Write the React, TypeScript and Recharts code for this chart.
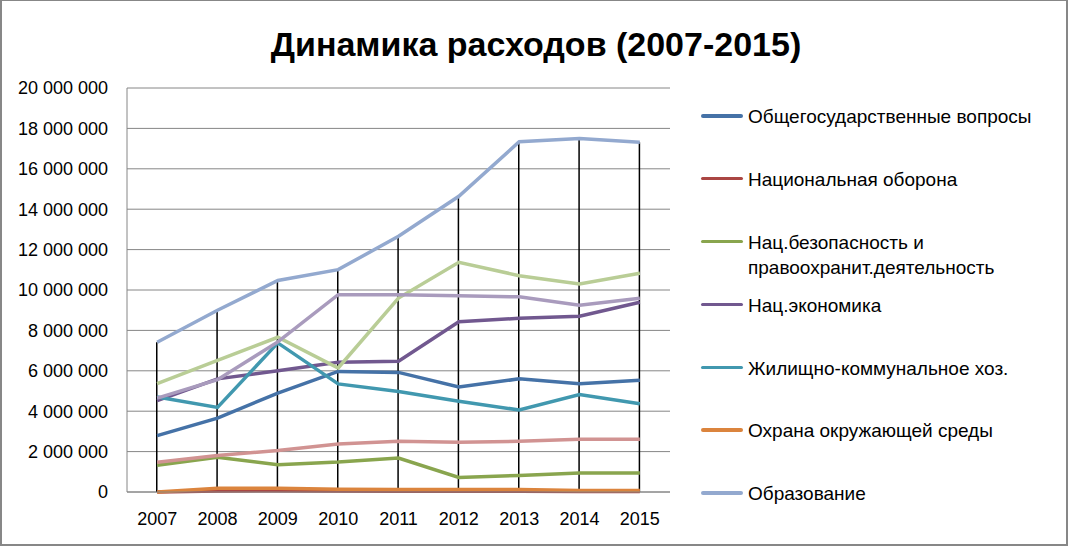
import React from "react";
import {
  ComposedChart, Line, Bar, XAxis, YAxis, CartesianGrid,
} from "recharts";

const years = ["2007", "2008", "2009", "2010", "2011", "2012", "2013", "2014", "2015"];

const obshchegos = [2790000, 3660000, 4900000, 5970000, 5920000, 5200000, 5600000, 5360000, 5530000];
const oborona = [0, 50000, 60000, 50000, 40000, 40000, 40000, 30000, 30000];
const bezopasnost = [1320000, 1720000, 1350000, 1480000, 1680000, 720000, 820000, 940000, 940000];
const ekonomika = [4520000, 5600000, 6000000, 6420000, 6470000, 8430000, 8600000, 8700000, 9390000];
const zhkh = [4700000, 4190000, 7380000, 5350000, 4970000, 4490000, 4060000, 4830000, 4370000];
const okhrana = [0, 180000, 180000, 130000, 120000, 120000, 120000, 80000, 80000];
const obrazovanie = [7410000, 9000000, 10470000, 11010000, 12660000, 14640000, 17340000, 17500000, 17320000];
const kultura = [1470000, 1810000, 2060000, 2380000, 2510000, 2460000, 2510000, 2610000, 2610000];
const zdravo = [5360000, 6520000, 7660000, 6140000, 9600000, 11370000, 10710000, 10300000, 10830000];
const sotspolit = [4650000, 5560000, 7430000, 9770000, 9770000, 9710000, 9660000, 9240000, 9590000];

const yTicks = [0, 2000000, 4000000, 6000000, 8000000, 10000000, 12000000, 14000000, 16000000, 18000000, 20000000];

const series = [
  { key: "Общегосударственные вопросы", values: obshchegos, color: "#4572A7", legend: true },
  { key: "Национальная оборона", values: oborona, color: "#AA4643", legend: true },
  { key: "Нац.безопасность и правоохранит.деятельность", values: bezopasnost, color: "#89A54E", legend: true },
  { key: "Нац.экономика", values: ekonomika, color: "#71588F", legend: true },
  { key: "Жилищно-коммунальное хоз.", values: zhkh, color: "#4198AF", legend: true },
  { key: "Охрана окружающей среды", values: okhrana, color: "#DB843D", legend: true },
  { key: "Образование", values: obrazovanie, color: "#93A9CF", legend: true },
  { key: "Культура", values: kultura, color: "#D19392", legend: false },
  { key: "Здравоохранение", values: zdravo, color: "#B9CD96", legend: false },
  { key: "Социальная политика", values: sotspolit, color: "#A99BBD", legend: false },
];

const data = years.map((year, i) => {
  const row: Record<string, string | number> = { year };
  series.forEach((s) => { row[s.key] = s.values[i]; });
  // drop line goes down from the highest point of the year
  row.drop = Math.max(...series.map((s) => s.values[i]));
  return row;
});

const font = "'Liberation Sans', Arial, sans-serif";
const fmt = (v: number) => String(v).replace(/\B(?=(\d{3})+(?!\d))/g, " ");

export default function App() {
  return (
    <div style={{ position: "absolute", left: 0, top: 0, width: 1068, height: 546, background: "#fff", fontFamily: font }}>
      <div style={{ position: "absolute", left: 0, top: 24, width: 1072, textAlign: "center", fontSize: 34, fontWeight: "bold", lineHeight: "40px", color: "#000" }}>
        Динамика расходов (2007-2015)
      </div>
      <ComposedChart width={1068} height={546} data={data} margin={{ top: 88, right: 398, bottom: 14, left: 0 }}>
        <CartesianGrid vertical={false} stroke="#868686" />
        <XAxis
          dataKey="year"
          height={40}
          axisLine={{ stroke: "#868686" }}
          tickLine={false}
          tickMargin={14}
          tick={{ fill: "#000", fontSize: 18, fontFamily: font }}
        />
        <YAxis
          width={127}
          domain={[0, 20000000]}
          ticks={yTicks}
          tickFormatter={fmt}
          axisLine={{ stroke: "#868686" }}
          tickLine={false}
          tickSize={0}
          tickMargin={19}
          tick={{ fill: "#000", fontSize: 18, fontFamily: font }}
        />
        {series.map((s) => (
          <Line
            key={s.key}
            dataKey={s.key}
            stroke={s.color}
            strokeWidth={3.5}
            dot={false}
            activeDot={false}
            type="linear"
            isAnimationActive={false}
          />
        ))}
        <Bar dataKey="drop" barSize={1.5} fill="#000" isAnimationActive={false} />
      </ComposedChart>
      <div style={{ position: "absolute", left: 701, top: 104 }}>
        {series.filter((s) => s.legend).map((s) => (
          <div key={s.key} style={{ position: "relative", height: 62.9, width: 350 }}>
            <div style={{ position: "absolute", left: 0, top: 10, width: 42, height: 3.5, background: s.color, borderRadius: 2 }} />
            <div style={{ position: "absolute", left: 47, top: 0, width: 320, fontSize: 19, lineHeight: "25px", color: "#000", whiteSpace: "pre-line" }}>
              {s.key.replace(" правоохранит", "\nправоохранит")}
            </div>
          </div>
        ))}
      </div>
      <div style={{ position: "absolute", left: 0, top: 0, width: 1068, height: 546, boxSizing: "border-box", border: "2px solid #878787", borderTopWidth: 1, pointerEvents: "none" }} />
    </div>
  );
}
